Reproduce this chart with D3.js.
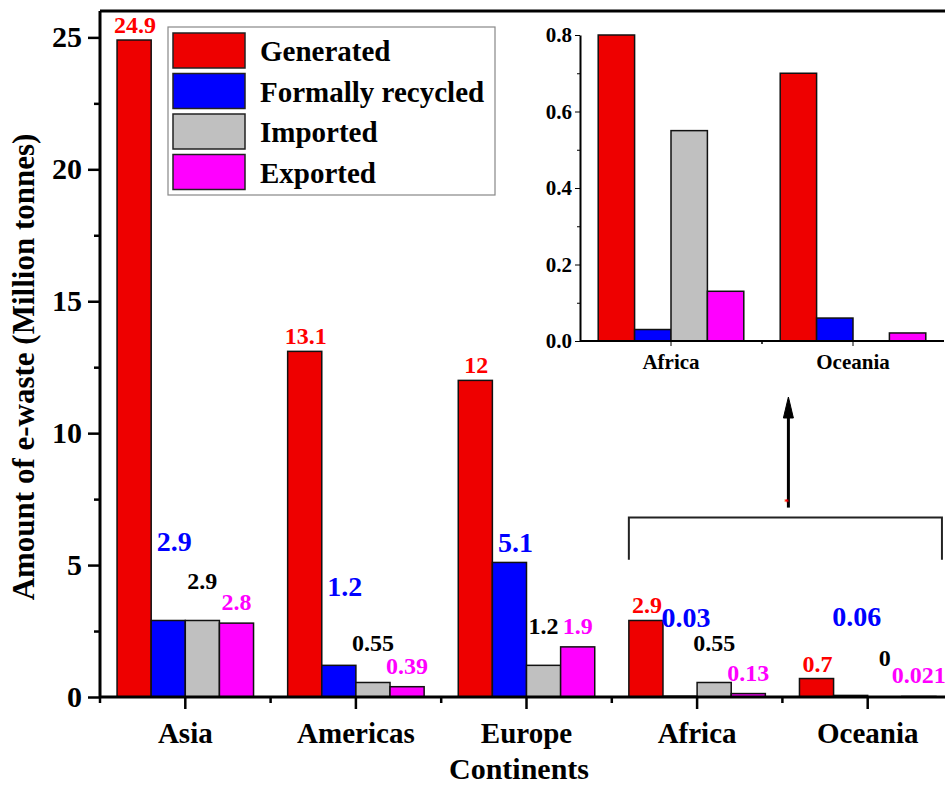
<!DOCTYPE html>
<html>
<head>
<meta charset="utf-8">
<script src="https://cdn.jsdelivr.net/npm/d3@7"></script>
<style>
  body { margin: 0; background: #fff; }
  svg { display: block; font-family: "Liberation Serif", "Times New Roman", serif; font-weight: bold; }
</style>
</head>
<body>
<svg id="chart" width="945" height="787"></svg>
<script>
// data
const continents = ["Asia", "Americas", "Europe", "Africa", "Oceania"];
const seriesNames = ["Generated", "Formally recycled", "Imported", "Exported"];
const generated = [24.9, 13.1, 12, 2.9, 0.7];
const recycled = [2.9, 1.2, 5.1, 0.03, 0.06];
const imported = [2.9, 0.55, 1.2, 0.55, 0];
const exported = [2.8, 0.39, 1.9, 0.13, 0.021];
const yTicks = [0, 5, 10, 15, 20, 25];

// inset (zoom on Africa and Oceania)
const insetContinents = ["Africa", "Oceania"];
const insetGenerated = [0.8, 0.7];
const insetRecycled = [0.03, 0.06];
const insetImported = [0.55, 0];
const insetExported = [0.13, 0.021];
const insetTicks = [0, 0.2, 0.4, 0.6, 0.8];

const colors = ["#ee0000", "#0000ff", "#c0c0c0", "#ff00ff"];
const labelColors = ["#ff0000", "#0000ff", "#000000", "#ff00ff"];
const serif = '"Liberation Serif", "Times New Roman", serif';

function rows(cats, cols) {
  return cats.map((c, i) => ({ name: c, values: cols.map(col => col[i]) }));
}
const mainRows = rows(continents, [generated, recycled, imported, exported]);
const insetRows = rows(insetContinents, [insetGenerated, insetRecycled, insetImported, insetExported]);

function styleTicks(g, size) {
  g.attr("font-family", null);
  g.selectAll("text")
    .style("font-size", size + "px")
    .style("font-family", serif)
    .style("font-weight", "bold")
    .attr("fill", "#000");
}

(function() {
const svg = d3.select("#chart");

// ---- main chart ----
let pLeft = 100, pRight = 953, pTop = 11, pBottom = 697;
let x = d3.scaleBand().domain(continents).range([pLeft, pRight]).paddingInner(0.2).paddingOuter(0.1);
let x1 = d3.scaleBand().domain(d3.range(4)).range([0, x.bandwidth()]);
let y = d3.scaleLinear().domain([0, 26]).range([pBottom, pTop]);

let groups = svg.append("g").selectAll("g").data(mainRows).enter().append("g")
  .attr("transform", d => "translate(" + x(d.name) + ",0)");
groups.selectAll("rect").data(d => d.values).enter().append("rect")
  .attr("x", (d, i) => x1(i))
  .attr("y", d => y(d))
  .attr("width", x1.bandwidth())
  .attr("height", d => pBottom - y(d))
  .style("fill", (d, i) => colors[i])
  .style("stroke", "#111")
  .style("stroke-width", 1.5);

// value labels: lift above bar top per series (hand placed in the original)
let lift = [7, 69, 31, 13];
let shiftX = [1, 6, 0, 0];
let labelSize = [24, 28, 24, 24];
groups.each(function(row) {
  d3.select(this).selectAll("text.val").data(row.values).enter().append("text")
    .attr("class", "val")
    .attr("x", (d, i) => x1(i) + x1.bandwidth() / 2 + shiftX[i])
    .attr("y", (d, i) => {
      let l = lift[i];
      if (row.name == "Europe" && i == 1) l = 10;
      return y(d) - l;
    })
    .attr("text-anchor", "middle")
    .style("font-size", (d, i) => labelSize[i] + "px")
    .style("fill", (d, i) => labelColors[i])
    .text(d => String(d));
});

// y axis
let yAxis = svg.append("g").attr("transform", "translate(" + pLeft + ",0)")
  .call(d3.axisLeft(y).tickValues(yTicks).tickSize(12).tickSizeOuter(0).tickPadding(6));
svg.append("g").attr("transform", "translate(" + pLeft + ",0)")
  .call(d3.axisLeft(y).tickValues(d3.range(2.5, 26, 5)).tickSize(6).tickFormat(""))
  .select(".domain").remove();
yAxis.select(".domain").attr("d", "M0," + pBottom + "V" + pTop);
styleTicks(yAxis, 30);

// x axis
let xAxis = svg.append("g").attr("transform", "translate(0," + pBottom + ")")
  .call(d3.axisBottom(x).tickSize(12).tickSizeOuter(0).tickPadding(13));
xAxis.select(".domain").attr("d", "M" + pLeft + ",0H" + pRight);
styleTicks(xAxis, 29);
let bounds = continents.map(c => x(c) - x.step() * x.paddingInner() / 2);
svg.append("g").selectAll("line").data(bounds).enter().append("line")
  .attr("x1", d => d).attr("x2", d => d)
  .attr("y1", pBottom).attr("y2", pBottom + 6)
  .style("stroke", "#000").style("stroke-width", 2.5);

svg.selectAll(".domain").style("stroke-width", 3);
svg.selectAll(".tick line").style("stroke-width", 2.5);

// top frame
svg.append("line").attr("x1", pLeft).attr("x2", pRight).attr("y1", pTop).attr("y2", pTop)
  .style("stroke", "#000").style("stroke-width", 3);

// axis titles
svg.append("text")
  .attr("transform", "translate(34,367) rotate(-90)")
  .attr("text-anchor", "middle")
  .style("font-size", "31px")
  .text("Amount of e-waste (Million tonnes)");
svg.append("text")
  .attr("x", 519).attr("y", 779)
  .attr("text-anchor", "middle")
  .style("font-size", "30px")
  .text("Continents");

// legend
let legend = svg.append("g").attr("transform", "translate(168,27)");
legend.append("rect").attr("width", 327).attr("height", 168)
  .style("fill", "#fff").style("stroke", "#888").style("stroke-width", 1.2);
let items = legend.selectAll("g").data(seriesNames).enter().append("g")
  .attr("transform", (d, i) => "translate(5," + (6 + i * 40.5) + ")");
items.append("rect").attr("width", 72).attr("height", 35)
  .style("fill", (d, i) => colors[i]).style("stroke", "#222").style("stroke-width", 1.5);
items.append("text").attr("x", 87).attr("y", 28)
  .style("font-size", "29px").text(d => d);

// bracket and arrow pointing to the inset
let bL = x("Africa"), bR = x("Oceania") + x.bandwidth() + 6;
let bTop = y(6.8), bBot = y(5.2), mid = (bL + bR) / 2 + 3;
svg.append("path")
  .attr("d", "M" + bL + "," + bBot + "V" + bTop + "H" + bR + "V" + bBot)
  .style("fill", "none").style("stroke", "#222").style("stroke-width", 2);
svg.append("line").attr("x1", mid).attr("x2", mid).attr("y1", bTop - 10).attr("y2", 414)
  .style("stroke", "#000").style("stroke-width", 3);
svg.append("path").attr("d", "M" + (mid - 5) + ",418L" + mid + ",397L" + (mid + 5) + ",418Z")
  .style("fill", "#000").style("stroke", "#000").style("stroke-width", 1);
svg.append("text").attr("x", mid - 2).attr("y", bTop - 13).attr("text-anchor", "middle")
  .style("font-size", "9px").style("fill", "#ff0000").text("*");

// ---- inset chart ----
let iLeft = 580, iRight = 944, iTop = 35, iBottom = 341;
let ix = d3.scaleBand().domain(insetContinents).range([iLeft, iRight]).paddingInner(0.2).paddingOuter(0.1);
let ix1 = d3.scaleBand().domain(d3.range(4)).range([0, ix.bandwidth()]);
let iy = d3.scaleLinear().domain([0, 0.8]).range([iBottom, iTop]);

let igroups = svg.append("g").selectAll("g").data(insetRows).enter().append("g")
  .attr("transform", d => "translate(" + ix(d.name) + ",0)");
igroups.selectAll("rect").data(d => d.values.map((v, i) => ({ v: v, i: i })).filter(o => o.v > 0))
  .enter().append("rect")
  .attr("x", d => ix1(d.i))
  .attr("y", d => iy(d.v))
  .attr("width", ix1.bandwidth())
  .attr("height", d => iBottom - iy(d.v))
  .style("fill", d => colors[d.i])
  .style("stroke", "#111")
  .style("stroke-width", 1.5);

let iyAxis = svg.append("g").attr("transform", "translate(" + iLeft + ",0)")
  .call(d3.axisLeft(iy).tickValues(insetTicks).tickFormat(d3.format(".1f")).tickSize(5).tickSizeOuter(0).tickPadding(3));
svg.append("g").attr("transform", "translate(" + iLeft + ",0)")
  .call(d3.axisLeft(iy).tickValues([0.1, 0.3, 0.5, 0.7]).tickSize(3).tickFormat(""))
  .select(".domain").remove();
styleTicks(iyAxis, 21);

let ixAxis = svg.append("g").attr("transform", "translate(0," + iBottom + ")")
  .call(d3.axisBottom(ix).tickSize(5).tickSizeOuter(0).tickPadding(8));
ixAxis.select(".domain").attr("d", "M" + iLeft + ",0H" + iRight);
styleTicks(ixAxis, 21);
let ibounds = insetContinents.slice(1).map(c => ix(c) - ix.step() * ix.paddingInner() / 2);
svg.append("g").selectAll("line").data(ibounds).enter().append("line")
  .attr("x1", d => d).attr("x2", d => d)
  .attr("y1", iBottom).attr("y2", iBottom + 3)
  .style("stroke", "#000").style("stroke-width", 1.5);
iyAxis.select(".domain").style("stroke-width", 2);
ixAxis.select(".domain").style("stroke-width", 2);
})();
</script>
</body>
</html>
